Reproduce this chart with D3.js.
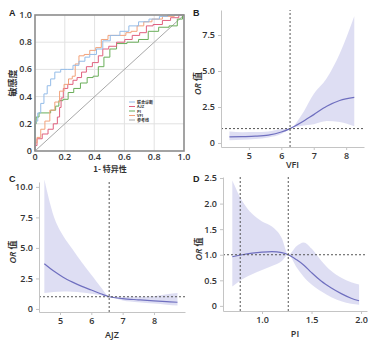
<!DOCTYPE html>
<html>
<head>
<meta charset="utf-8">
<script src="https://cdn.jsdelivr.net/npm/d3@7"></script>
<style>
  body { margin: 0; background: #fff; }
  svg { display: block; font-family: "Open Sans", "Noto Sans CJK SC", sans-serif; }
</style>
</head>
<body>
<div id="chart"></div>
<script>
// ── Data ────────────────────────────────────────────────────────────────────
// Panel A: ROC curves, [1 - specificity, sensitivity]
const rocCombined = [[0,0],[0,0.2],[0.01,0.22],[0.027,0.28],[0.05,0.35],[0.07,0.42],[0.094,0.48],[0.116,0.53],
  [0.15,0.58],[0.195,0.6],[0.24,0.6],[0.27,0.63],[0.32,0.66],[0.35,0.69],[0.385,0.71],[0.44,0.75],[0.47,0.81],
  [0.54,0.85],[0.6,0.88],[0.66,0.92],[0.73,0.95],[0.8,0.97],[0.87,0.99],[0.91,1],[1,1]];
const rocAJZ = [[0,0],[0,0.04],[0.027,0.09],[0.07,0.125],[0.105,0.16],[0.14,0.2],[0.16,0.25],[0.17,0.32],[0.18,0.39],
  [0.2,0.46],[0.24,0.49],[0.27,0.52],[0.295,0.54],[0.33,0.58],[0.36,0.62],[0.41,0.65],[0.44,0.7],[0.47,0.75],
  [0.52,0.77],[0.575,0.8],[0.63,0.82],[0.675,0.85],[0.73,0.87],[0.765,0.92],[0.82,0.93],[0.89,0.96],[0.93,0.98],[1,1]];
const rocPI = [[0,0],[0,0.2],[0.016,0.25],[0.038,0.28],[0.083,0.28],[0.127,0.3],[0.15,0.33],[0.17,0.37],[0.205,0.38],
  [0.24,0.43],[0.28,0.46],[0.33,0.5],[0.37,0.54],[0.41,0.55],[0.44,0.62],[0.485,0.69],[0.52,0.75],[0.575,0.79],
  [0.66,0.8],[0.73,0.82],[0.79,0.88],[0.87,0.91],[0.93,0.92],[0.98,0.97],[1,1]];
const rocVFI = [[0,0],[0,0.06],[0.027,0.1],[0.05,0.16],[0.083,0.22],[0.116,0.3],[0.15,0.36],[0.18,0.44],[0.21,0.49],
  [0.24,0.53],[0.26,0.55],[0.28,0.64],[0.31,0.7],[0.35,0.71],[0.385,0.74],[0.43,0.76],[0.46,0.82],[0.52,0.85],
  [0.59,0.85],[0.63,0.87],[0.66,0.88],[0.71,0.92],[0.75,0.95],[0.82,0.97],[0.89,0.99],[0.98,1],[1,1]];
const rocRef = [[0,0],[1,1]];
const rocNames = ['联合诊断', 'AJZ', 'PI', 'VFI', '参考线'];
const rocTicks = [0, 0.2, 0.4, 0.6, 0.8, 1.0];

// Panel B: VFI restricted cubic spline
const vfiX     = [4.4, 4.8, 5.2, 5.6, 6.0, 6.27, 6.6, 7.0, 7.4, 7.8, 8.25];
const vfiOR    = [0.42, 0.44, 0.47, 0.55, 0.76, 1.0, 1.4, 1.97, 2.55, 2.95, 3.17];
const vfiLow   = [0.19, 0.22, 0.27, 0.38, 0.62, 1.0, 1.18, 1.3, 1.52, 1.45, 1.16];
const vfiHigh  = [0.8, 0.75, 0.76, 0.8, 0.97, 1.0, 1.85, 3.4, 4.5, 6.2, 8.8];
const vfiCut   = [6.27];

// Panel C: AJZ
const ajzX     = [4.5, 4.8, 5.1, 5.4, 5.7, 6.0, 6.3, 6.57, 7.0, 7.5, 8.0, 8.4, 8.75];
const ajzOR    = [3.7, 3.1, 2.6, 2.2, 1.85, 1.55, 1.25, 1.0, 0.85, 0.75, 0.66, 0.6, 0.55];
const ajzLow   = [1.3, 1.38, 1.42, 1.4, 1.35, 1.25, 1.12, 1.0, 0.7, 0.55, 0.45, 0.35, 0.28];
const ajzHigh  = [10.6, 7.6, 6.0, 4.9, 3.8, 2.8, 1.8, 1.05, 1.0, 1.0, 1.05, 1.2, 1.3];
const ajzCut   = [6.57];

// Panel D: PI
const piX      = [0.7, 0.8, 0.9, 1.0, 1.1, 1.2, 1.265, 1.35, 1.42, 1.5, 1.6, 1.7, 1.8, 1.9, 1.98];
const piOR     = [0.96, 1.0, 1.03, 1.05, 1.06, 1.04, 1.0, 0.9, 0.8, 0.65, 0.48, 0.35, 0.24, 0.15, 0.1];
const piLow    = [0.38, 0.52, 0.62, 0.7, 0.78, 0.88, 1.0, 0.75, 0.57, 0.42, 0.28, 0.17, 0.09, 0.04, 0.02];
const piHigh   = [2.45, 2.05, 1.8, 1.65, 1.55, 1.32, 1.0, 1.17, 1.24, 1.12, 0.88, 0.68, 0.55, 0.46, 0.42];
const piCut    = [0.78, 1.265];

// ── Setup ───────────────────────────────────────────────────────────────────
const W = 384, H = 344;
const svg = d3.select('#chart').append('svg').attr('width', W).attr('height', H);
svg.append('rect').attr('width', W).attr('height', H).attr('fill', '#fff');

function panelLetter(txt, x, y) {
  svg.append('text').attr('x', x).attr('y', y)
    .attr('font-size', 9).attr('font-weight', 700).attr('fill', '#222')
    .attr('font-family', 'Arial, "Liberation Sans", sans-serif')
    .text(txt);
}

// ── Panel A: ROC ────────────────────────────────────────────────────────────
(() => {
  const x = d3.scaleLinear().domain([0, 1]).range([35, 184]);
  const y = d3.scaleLinear().domain([0, 1]).range([151, 15]);
  const g = svg.append('g');

  // grid
  g.selectAll('.gx').data(rocTicks.slice(1, -1)).join('line')
    .attr('x1', d => x(d)).attr('x2', d => x(d)).attr('y1', y(0)).attr('y2', y(1))
    .attr('stroke', '#e2e2e2').attr('stroke-width', 1);
  g.selectAll('.gy').data(rocTicks.slice(1, -1)).join('line')
    .attr('x1', x(0)).attr('x2', x(1)).attr('y1', d => y(d)).attr('y2', d => y(d))
    .attr('stroke', '#e2e2e2').attr('stroke-width', 1);

  const line = d3.line().x(d => x(d[0])).y(d => y(d[1]));
  const step = d3.line().x(d => x(d[0])).y(d => y(d[1])).curve(d3.curveStep);

  const series = [
    { data: rocRef,      color: '#a8a8a8', gen: line },
    { data: rocPI,       color: '#6aae5a', gen: step },
    { data: rocAJZ,      color: '#e0607e', gen: step },
    { data: rocVFI,      color: '#f2a27a', gen: step },
    { data: rocCombined, color: '#94bce8', gen: step }
  ];
  series.forEach(s => {
    g.append('path').attr('d', s.gen(s.data))
      .attr('fill', 'none').attr('stroke', s.color).attr('stroke-width', 1);
  });

  // frame
  g.append('rect').attr('x', x(0)).attr('y', y(1))
    .attr('width', x(1) - x(0)).attr('height', y(0) - y(1))
    .attr('fill', 'none').attr('stroke', '#8c8c8c').attr('stroke-width', 1.6);

  // tick labels
  const fmt = d => d === 0 ? '0' : d3.format('.1f')(d);
  g.selectAll('.ty').data(rocTicks).join('text')
    .attr('x', x(0) - 3).attr('y', d => y(d) + 3)
    .attr('text-anchor', 'end').attr('font-size', 9).attr('font-weight', 600).attr('fill', '#333')
    .text(fmt);
  g.selectAll('.tx').data(rocTicks).join('text')
    .attr('x', d => x(d)).attr('y', y(0) + 9)
    .attr('text-anchor', 'middle').attr('font-size', 9).attr('font-weight', 600).attr('fill', '#333')
    .text(fmt);

  g.append('text').attr('x', 110).attr('y', 172).attr('text-anchor', 'middle')
    .attr('font-size', 8).attr('font-weight', 700).attr('fill', '#333')
    .attr('font-family', '"Noto Sans CJK SC", sans-serif')
    .text('1- 特异性');
  g.append('text').attr('transform', `translate(16,${(y(0) + y(1)) / 2}) rotate(-90)`)
    .attr('text-anchor', 'middle').attr('font-size', 9).attr('font-weight', 700).attr('fill', '#333')
    .attr('font-family', '"Noto Sans CJK SC", sans-serif')
    .text('敏感度');

  // legend
  const legColors = ['#94bce8', '#e0607e', '#6aae5a', '#f2a27a', '#a8a8a8'];
  const lg = g.append('g').attr('transform', 'translate(129,102)');
  rocNames.forEach((n, i) => {
    lg.append('line').attr('x1', 0).attr('x2', 6).attr('y1', i * 4.5).attr('y2', i * 4.5)
      .attr('stroke', legColors[i]).attr('stroke-width', 1);
    lg.append('text').attr('x', 8).attr('y', i * 4.5 + 1.5)
      .attr('font-size', 4).attr('font-weight', 700).attr('fill', '#333')
      .attr('font-family', '"Noto Sans CJK SC", sans-serif')
      .text(n);
  });

  panelLetter('A', 9, 16);
})();

// ── Spline panels ───────────────────────────────────────────────────────────
function splinePanel(opt) {
  const { xs, or, low, high, cuts, xDom, xRange, yDom, yRange, xTicks, yTicks, xFmt, yFmt, xLabel, xLabelDy, yLabelX } = opt;
  const x = d3.scaleLinear().domain(xDom).range(xRange);
  const y = d3.scaleLinear().domain(yDom).range(yRange);
  const g = svg.append('g');
  const rows = xs.map((v, i) => ({ x: v, or: or[i], lo: low[i], hi: high[i] }));

  g.append('path')
    .attr('d', d3.area().x(d => x(d.x)).y0(d => y(d.lo)).y1(d => y(d.hi)).curve(d3.curveMonotoneX)(rows))
    .attr('fill', '#dcdcf2').attr('opacity', 0.95);
  g.append('path')
    .attr('d', d3.line().x(d => x(d.x)).y(d => y(d.or)).curve(d3.curveMonotoneX)(rows))
    .attr('fill', 'none').attr('stroke', '#6f6fbf').attr('stroke-width', 1.2);

  // reference lines
  g.append('line').attr('x1', xRange[0]).attr('x2', xRange[1]).attr('y1', y(1)).attr('y2', y(1))
    .attr('stroke', '#555').attr('stroke-dasharray', '2,2').attr('stroke-width', 1);
  cuts.forEach(c => {
    g.append('line').attr('x1', x(c)).attr('x2', x(c)).attr('y1', yRange[0]).attr('y2', yRange[1])
      .attr('stroke', '#555').attr('stroke-dasharray', '2,2').attr('stroke-width', 1);
  });

  // axes
  const styleAxis = a => {
    a.select('.domain').attr('stroke', '#c4c4c4');
    a.selectAll('.tick line').attr('stroke', '#c4c4c4');
    a.selectAll('.tick text').attr('fill', '#333').attr('font-size', 9).attr('font-weight', 600)
      .attr('font-family', '"Open Sans", sans-serif');
  };
  g.append('g').attr('transform', `translate(0,${yRange[0]})`)
    .call(d3.axisBottom(x).tickValues(xTicks).tickFormat(xFmt).tickSize(3).tickSizeOuter(0))
    .call(styleAxis);
  g.append('g').attr('transform', `translate(${xRange[0]},0)`)
    .call(d3.axisLeft(y).tickValues(yTicks).tickFormat(yFmt).tickSize(3).tickSizeOuter(0))
    .call(styleAxis);

  g.append('text').attr('x', (xRange[0] + xRange[1]) / 2).attr('y', yRange[0] + xLabelDy)
    .attr('text-anchor', 'middle').attr('font-size', 9).attr('font-weight', 600).attr('fill', '#333')
    .text(xLabel);
  const yl = g.append('text')
    .attr('transform', `translate(${yLabelX},${(yRange[0] + yRange[1]) / 2 + 5}) rotate(-90)`)
    .attr('text-anchor', 'middle').attr('font-size', 9).attr('font-weight', 600).attr('fill', '#333');
  yl.append('tspan').attr('font-style', 'italic').text('OR');
  yl.append('tspan').attr('font-family', '"Noto Sans CJK SC", sans-serif').text(' 值');
}

const fmt1 = d3.format('.1f');
const yFmtB = d => d === 0 ? '0' : fmt1(d);

splinePanel({
  xs: vfiX, or: vfiOR, low: vfiLow, high: vfiHigh, cuts: vfiCut,
  xDom: [4.14, 8.55], xRange: [221, 364], yDom: [-0.28, 9.24], yRange: [147, 10],
  xTicks: [5, 6, 7, 8], yTicks: [0, 2.5, 5.0, 7.5], xFmt: d3.format('d'), yFmt: yFmtB,
  xLabel: 'VFI', xLabelDy: 21, yLabelX: 201
});
panelLetter('B', 193, 16);

splinePanel({
  xs: ajzX, or: ajzOR, low: ajzLow, high: ajzHigh, cuts: ajzCut,
  xDom: [4.33, 8.99], xRange: [39, 185], yDom: [-0.25, 10.4], yRange: [312, 182],
  xTicks: [5, 6, 7, 8], yTicks: [0, 2.5, 5.0, 7.5, 10.0], xFmt: d3.format('d'), yFmt: yFmtB,
  xLabel: 'AJZ', xLabelDy: 26, yLabelX: 16
});
panelLetter('C', 9, 182);

splinePanel({
  xs: piX, or: piOR, low: piLow, high: piHigh, cuts: piCut,
  xDom: [0.606, 2.06], xRange: [223, 367], yDom: [-0.1, 2.52], yRange: [311, 177],
  xTicks: [1.0, 1.5, 2.0], yTicks: [0, 0.5, 1.0, 1.5, 2.0, 2.5], xFmt: fmt1, yFmt: yFmtB,
  xLabel: 'PI', xLabelDy: 26, yLabelX: 202
});
panelLetter('D', 193, 182);
</script>
</body>
</html>
